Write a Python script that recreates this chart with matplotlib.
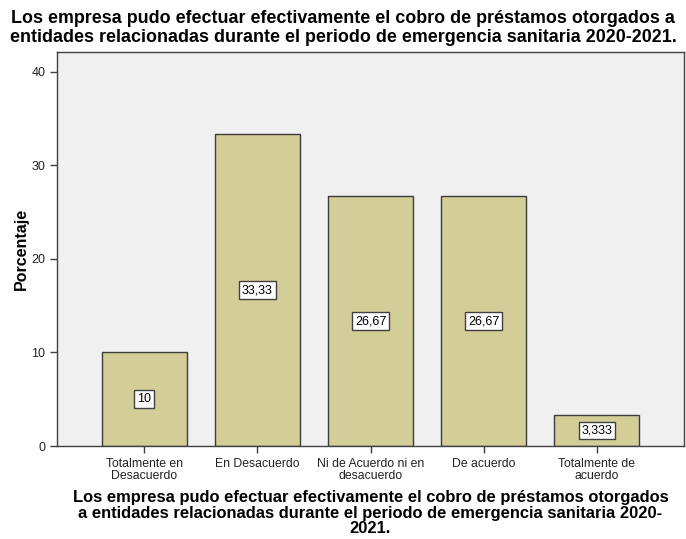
import matplotlib
matplotlib.use("Agg")
import matplotlib.pyplot as plt

categorias = ["Totalmente en\nDesacuerdo", "En Desacuerdo", "Ni de Acuerdo ni en\ndesacuerdo",
              "De acuerdo", "Totalmente de\nacuerdo"]
porcentajes = [10.0, 33.33, 26.67, 26.67, 3.333]
etiquetas = ["10", "33,33", "26,67", "26,67", "3,333"]

plt.rcParams["font.family"] = ["Liberation Sans", "DejaVu Sans"]

fig = plt.figure(figsize=(6.86, 5.39), dpi=100)
ax = fig.add_axes([0.0831, 0.1725, 0.914, 0.731])
ax.set_facecolor("#F0F0F0")

x = range(len(categorias))
ax.bar(x, porcentajes, width=0.75, color="#D3CE98", edgecolor="#3C3C3C", linewidth=1.0, zorder=2)

for i, v in enumerate(porcentajes):
    ax.text(i, v / 2, etiquetas[i], ha="center", va="center", fontsize=9, zorder=3,
            bbox=dict(boxstyle="square,pad=0.22", fc="white", ec="#404040", lw=1))

ax.set_xlim(-0.77, 4.77)
ax.set_ylim(0, 42.1)
ax.set_yticks([0, 10, 20, 30, 40])
ax.set_xticks(list(x))
ax.set_xticklabels(categorias, fontsize=8.8, linespacing=1.0)
ax.tick_params(axis="y", labelsize=9, length=5, width=1, color="#404040", labelcolor="#222222")
ax.tick_params(axis="x", length=5, width=1, color="#404040", labelcolor="#222222")
for s in ax.spines.values():
    s.set_color("#404040")
    s.set_linewidth(1)

ax.set_ylabel("Porcentaje", fontsize=11.5, fontweight="bold", labelpad=2)
ax.set_xlabel("Los empresa pudo efectuar efectivamente el cobro de préstamos otorgados\n"
              "a entidades relacionadas durante el periodo de emergencia sanitaria 2020-\n2021.",
              fontsize=11.9, fontweight="bold", linespacing=1.05, labelpad=6)

fig.text(0.5, 0.981, "Los empresa pudo efectuar efectivamente el cobro de préstamos otorgados a\n"
         "entidades relacionadas durante el periodo de emergencia sanitaria 2020-2021.",
         ha="center", va="top", fontsize=12.9, fontweight="bold", linespacing=1.15)

fig.savefig("out.png", dpi=100)
